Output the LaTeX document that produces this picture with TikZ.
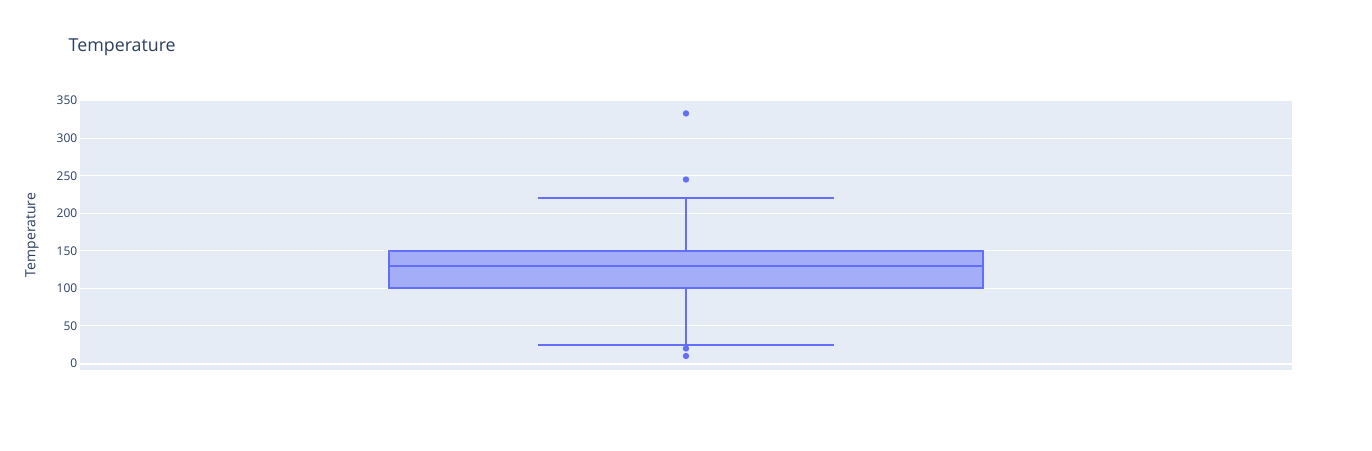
\documentclass[tikz,border=0pt]{standalone}
\usepackage{fontspec}
\setmainfont{Open Sans}
\definecolor{plotbg}{HTML}{E5ECF6}
\definecolor{txt}{HTML}{2A3F5F}
\definecolor{boxline}{HTML}{636EFA}
\definecolor{boxfill}{HTML}{A4ADF8}
\begin{document}
\begin{tikzpicture}[x=1pt,y=-1pt,
  tick/.style={anchor=east,font=\fontsize{12}{14}\selectfont,text=txt,inner sep=0pt},
  grid/.style={white,line width=1pt},
  bx/.style={boxline,line width=2pt},
  outl/.style={fill=boxline,draw=none}]
\useasboundingbox (0,0) rectangle (1372,450);
\fill[white] (0,0) rectangle (1372,450);
% plot area
\fill[plotbg] (80,100) rectangle (1292,370);
% y mapping: y = 363.5 - v*0.751
\foreach \v in {50,100,...,350}{
  \draw[grid] (80,{363.5-\v*0.751}) -- (1292,{363.5-\v*0.751});
}
\draw[white,line width=2pt] (80,363.5) -- (1292,363.5);
\foreach \v in {0,50,...,350}{
  \node[tick] (t\v) at (77.5,{363.5-\v*0.751}) {\v};
}
% box
\coordinate (q3l) at (389,{363.5-150*0.751});
\coordinate (q1r) at (983,{363.5-100*0.751});
\draw[bx,fill=boxfill] (q3l) rectangle (q1r);
\draw[bx] (389,{363.5-130*0.751}) -- (983,{363.5-130*0.751});
% whiskers
\draw[bx] (686,{363.5-150*0.751}) -- (686,{363.5-220*0.751});
\draw[bx] (538,{363.5-220*0.751}) -- (834,{363.5-220*0.751});
\draw[bx] (686,{363.5-100*0.751}) -- (686,{363.5-25*0.751});
\draw[bx] (538,{363.5-25*0.751}) -- (834,{363.5-25*0.751});
% outliers
\foreach \v in {333,245,20,10}{
  \fill[outl] (686,{363.5-\v*0.751}) circle (3.2);
}
% titles
\node[anchor=base west,font=\fontsize{17.8}{20}\selectfont,text=txt,inner sep=0pt] (title) at (68.5,51) {Temperature};
\node[rotate=90,font=\fontsize{14}{16}\selectfont,text=txt,inner sep=0pt] (ytitle) at (32,235) {Temperature};
\end{tikzpicture}
\end{document}
